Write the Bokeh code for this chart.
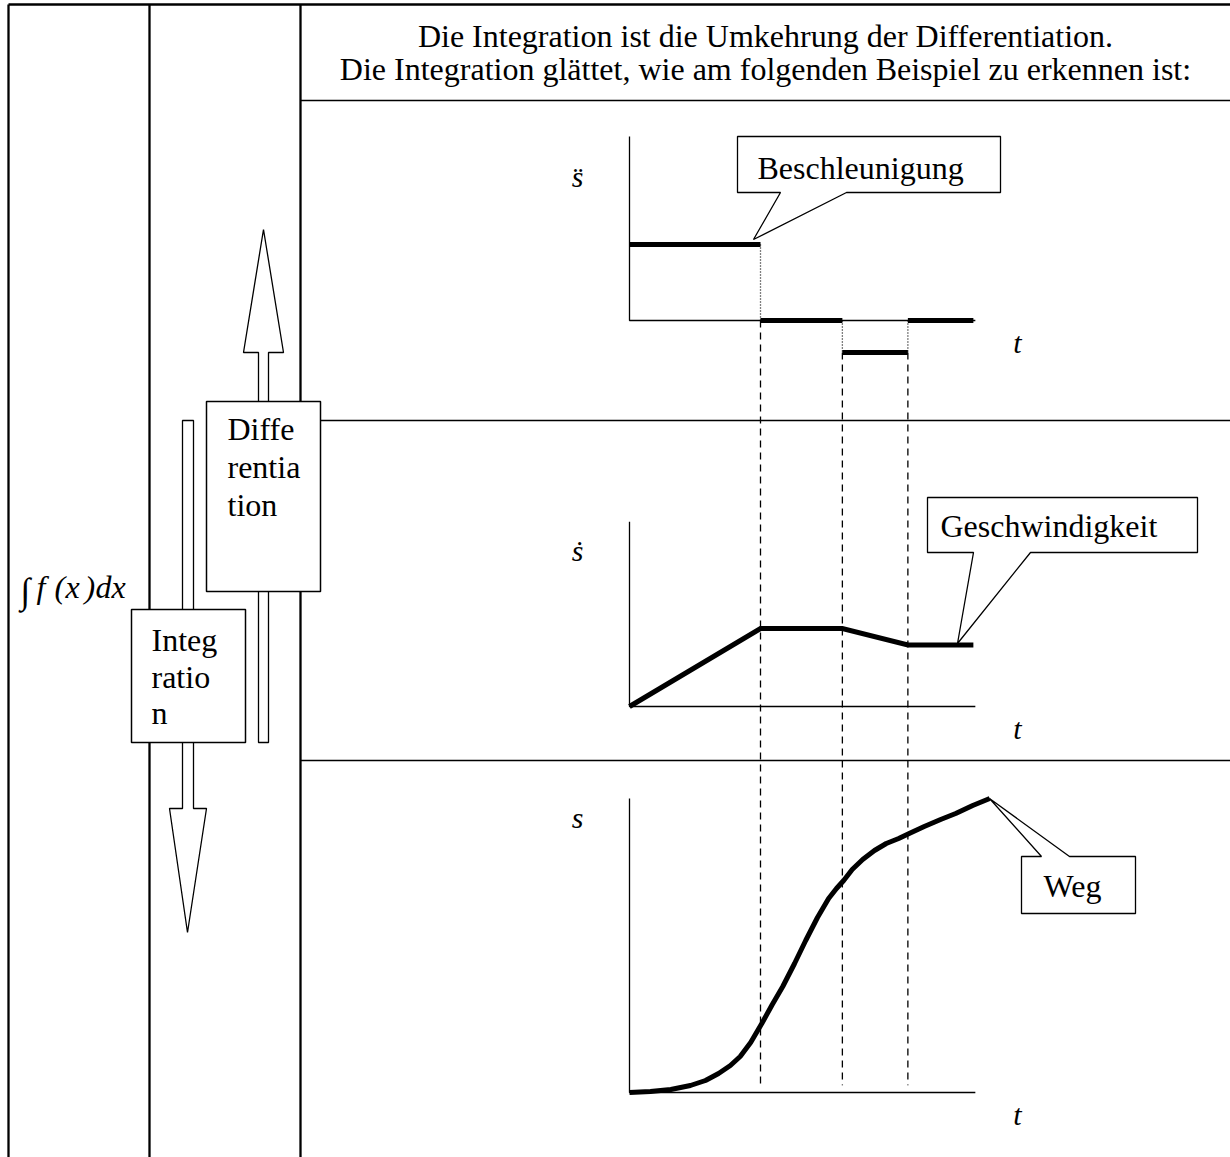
from bokeh.plotting import figure
from bokeh.models import Range1d
from bokeh.core.properties import value
from bokeh.embed import file_html
from bokeh.resources import INLINE

# ---------------- data ----------------
HEADER_LINES = ["Die Integration ist die Umkehrung der Differentiation.",
                "Die Integration glättet, wie am folgenden Beispiel zu erkennen ist:"]
T_BREAKS = [0.0, 2.0, 3.25, 4.25, 5.25]          # time break points
ACC_LEVELS = [1.0, 0.0, -0.42, 0.0]              # acceleration per segment
VEL_T = [0.0, 2.0, 3.25, 4.25, 5.25]
VEL_V = [0.0, 2.0, 2.0, 1.58, 1.58]
POS_T = [0.0, 0.32, 0.63, 0.93, 1.16, 1.36, 1.54, 1.69, 1.85, 2.02, 2.18, 2.34,
         2.52, 2.69, 2.87, 3.04, 3.16, 3.27, 3.40, 3.56, 3.74, 3.92, 4.11, 4.27,
         4.50, 4.75, 4.98, 5.24, 5.50]
POS_S = [0.0, 0.025, 0.075, 0.175, 0.30, 0.475, 0.675, 0.90, 1.25, 1.725, 2.20, 2.65,
         3.225, 3.80, 4.375, 4.85, 5.10, 5.30, 5.575, 5.825, 6.05, 6.225, 6.35, 6.475,
         6.65, 6.825, 6.975, 7.175, 7.35]
T_AXIS_END = 5.28
Y_AXIS_TOP = {"acc": 2.42, "vel": 4.74, "pos": 7.35}
Y_LABELS = {"acc": "s\u0308", "vel": "\u1e61", "pos": "s"}
CALLOUTS = ["Beschleunigung", "Geschwindigkeit", "Weg"]
DIFF_LINES = ["Diffe", "rentia", "tion"]
INTEG_LINES = ["Integ", "ratio", "n"]
INTEGRAL_GLYPHS = ["f", "(", "x", ")", "dx"]

# ---------------- layout (page pixels) ----------------
W, H = 1230, 1157
X_LO, X_HI, Y_TOP, Y_BOT = 0, W, 0, H
X0, KX = 629, 65.5
PANELS = {"acc": (320, 76.0), "vel": (706, 39.0), "pos": (1092, 40.0)}
DY = -11   # text baseline correction

FONT = value("Liberation Serif")

p = figure(width=W, height=H, x_range=Range1d(X_LO, X_HI), y_range=Range1d(Y_BOT, Y_TOP),
           output_backend="svg", toolbar_location=None, min_border=0,
           x_axis_location=None, y_axis_location=None)
p.grid.visible = False
p.outline_line_color = None
p.background_fill_color = "white"
p.border_fill_color = "white"

xr, yr = {}, {}
for name, (y0, ky) in PANELS.items():
    xr[name + "_x"] = Range1d((X_LO - X0) / KX, (X_HI - X0) / KX)
    yr[name + "_y"] = Range1d((y0 - Y_BOT) / ky, (y0 - Y_TOP) / ky)
p.extra_x_ranges = xr
p.extra_y_ranges = yr


def rn(name):
    return dict(x_range_name=name + "_x", y_range_name=name + "_y")


def to_panel(val, src, dst):
    y0s, kys = PANELS[src]
    y0d, kyd = PANELS[dst]
    pix = y0s - kys * val
    return (y0d - pix) / kyd


def txt(xs, ys, texts, size="32px", style="normal", align="left"):
    p.text(x=xs, y=[y + DY for y in ys], text=texts, text_font=FONT, text_font_size=size,
           text_font_style=style, text_align=align, text_baseline="alphabetic",
           text_color="black")


# ---------------- table ----------------
p.segment(x0=[8, 149, 300], y0=[4, 4, 4], x1=[8, 149, 300], y1=[Y_BOT] * 3,
          line_color="black", line_width=2.3)
p.segment(x0=[8], y0=[4], x1=[X_HI], y1=[4], line_color="black", line_width=2.6)
p.segment(x0=[300, 300, 300], y0=[100, 420, 760], x1=[X_HI] * 3, y1=[100, 420, 760],
          line_color="black", line_width=1.6)

# header text
txt([765, 765], [46, 79], HEADER_LINES, align="center")

# ---------------- block arrows ----------------
p.patch([258, 258, 243, 263, 283, 268, 268], [742, 352, 352, 229, 352, 352, 742],
        fill_color="white", line_color="black", line_width=1.3)
p.patch([182, 182, 169, 187, 206, 193, 193], [420, 808, 808, 932, 808, 808, 420],
        fill_color="white", line_color="black", line_width=1.3)

# boxes
p.quad(left=[206, 131], right=[320, 245], top=[401, 609], bottom=[591, 742],
       fill_color="white", line_color="black", line_width=1.5)
txt([227] * 3, [439, 477, 515], DIFF_LINES)
txt([151] * 3, [650, 687, 723], INTEG_LINES)

# integral label
txt([20], [601], ["\u222b"], size="36px")
txt([36, 54, 65, 84, 95], [597] * 5, INTEGRAL_GLYPHS, size="32px", style="italic")

# ---------------- panels: axes ----------------
for name in PANELS:
    p.line([0, 0, T_AXIS_END], [Y_AXIS_TOP[name], 0, 0], line_color="black",
           line_width=1.3, **rn(name))

# acceleration segments
acc_xs = [[T_BREAKS[i], T_BREAKS[i + 1]] for i in range(len(ACC_LEVELS))]
acc_ys = [[ACC_LEVELS[i], ACC_LEVELS[i]] for i in range(len(ACC_LEVELS))]
p.multi_line(acc_xs, acc_ys, line_color="black", line_width=5, line_cap="butt", **rn("acc"))

# velocity
p.line(VEL_T, VEL_V, line_color="black", line_width=5, line_join="miter", **rn("vel"))

# position
p.line(POS_T, POS_S, line_color="black", line_width=5, line_join="round", **rn("pos"))

# guide lines (in acc panel units)
dash_end = to_panel(0.18, "pos", "acc")
dot_xs, dot_ys, dash_xs, dash_ys = [], [], [], []
for i in range(1, len(T_BREAKS) - 1):
    a_before, a_after = ACC_LEVELS[i - 1], ACC_LEVELS[i]
    lo, hi = min(a_before, a_after), max(a_before, a_after)
    dot_xs.append([T_BREAKS[i], T_BREAKS[i]])
    dot_ys.append([hi, lo])
    dash_xs.append([T_BREAKS[i], T_BREAKS[i]])
    dash_ys.append([lo, dash_end])
p.multi_line(dot_xs, dot_ys, line_color="black", line_width=1.3, line_dash="1 2", **rn("acc"))
p.multi_line(dash_xs, dash_ys, line_color="black", line_width=1.3, line_dash="7 5", **rn("acc"))

# axis labels
for name, (y0, ky) in PANELS.items():
    off = {"acc": -133, "vel": -145, "pos": -264}[name]
    txt([577], [y0 + off], [Y_LABELS[name]], size="30px", style="italic", align="center")
    txt([1017], [y0 + 33], ["t"], size="30px", style="italic", align="center")

# ---------------- callouts ----------------
p.patch([737, 1000, 1000, 846, 753, 780, 737], [136, 136, 192, 192, 239, 192, 192],
        fill_color="white", line_color="black", line_width=1.3)
p.patch([927, 1197, 1197, 1030, 957, 973, 927], [497, 497, 552, 552, 643, 552, 552],
        fill_color="white", line_color="black", line_width=1.3)
p.patch([1021, 1041, 989, 1069, 1135, 1135, 1021], [856, 856, 798, 856, 856, 913, 913],
        fill_color="white", line_color="black", line_width=1.3)
txt([757, 940], [178, 536], CALLOUTS[:2])
txt([1072], [896], CALLOUTS[2:], align="center")

open("out.html", "w").write(file_html(p, INLINE))
